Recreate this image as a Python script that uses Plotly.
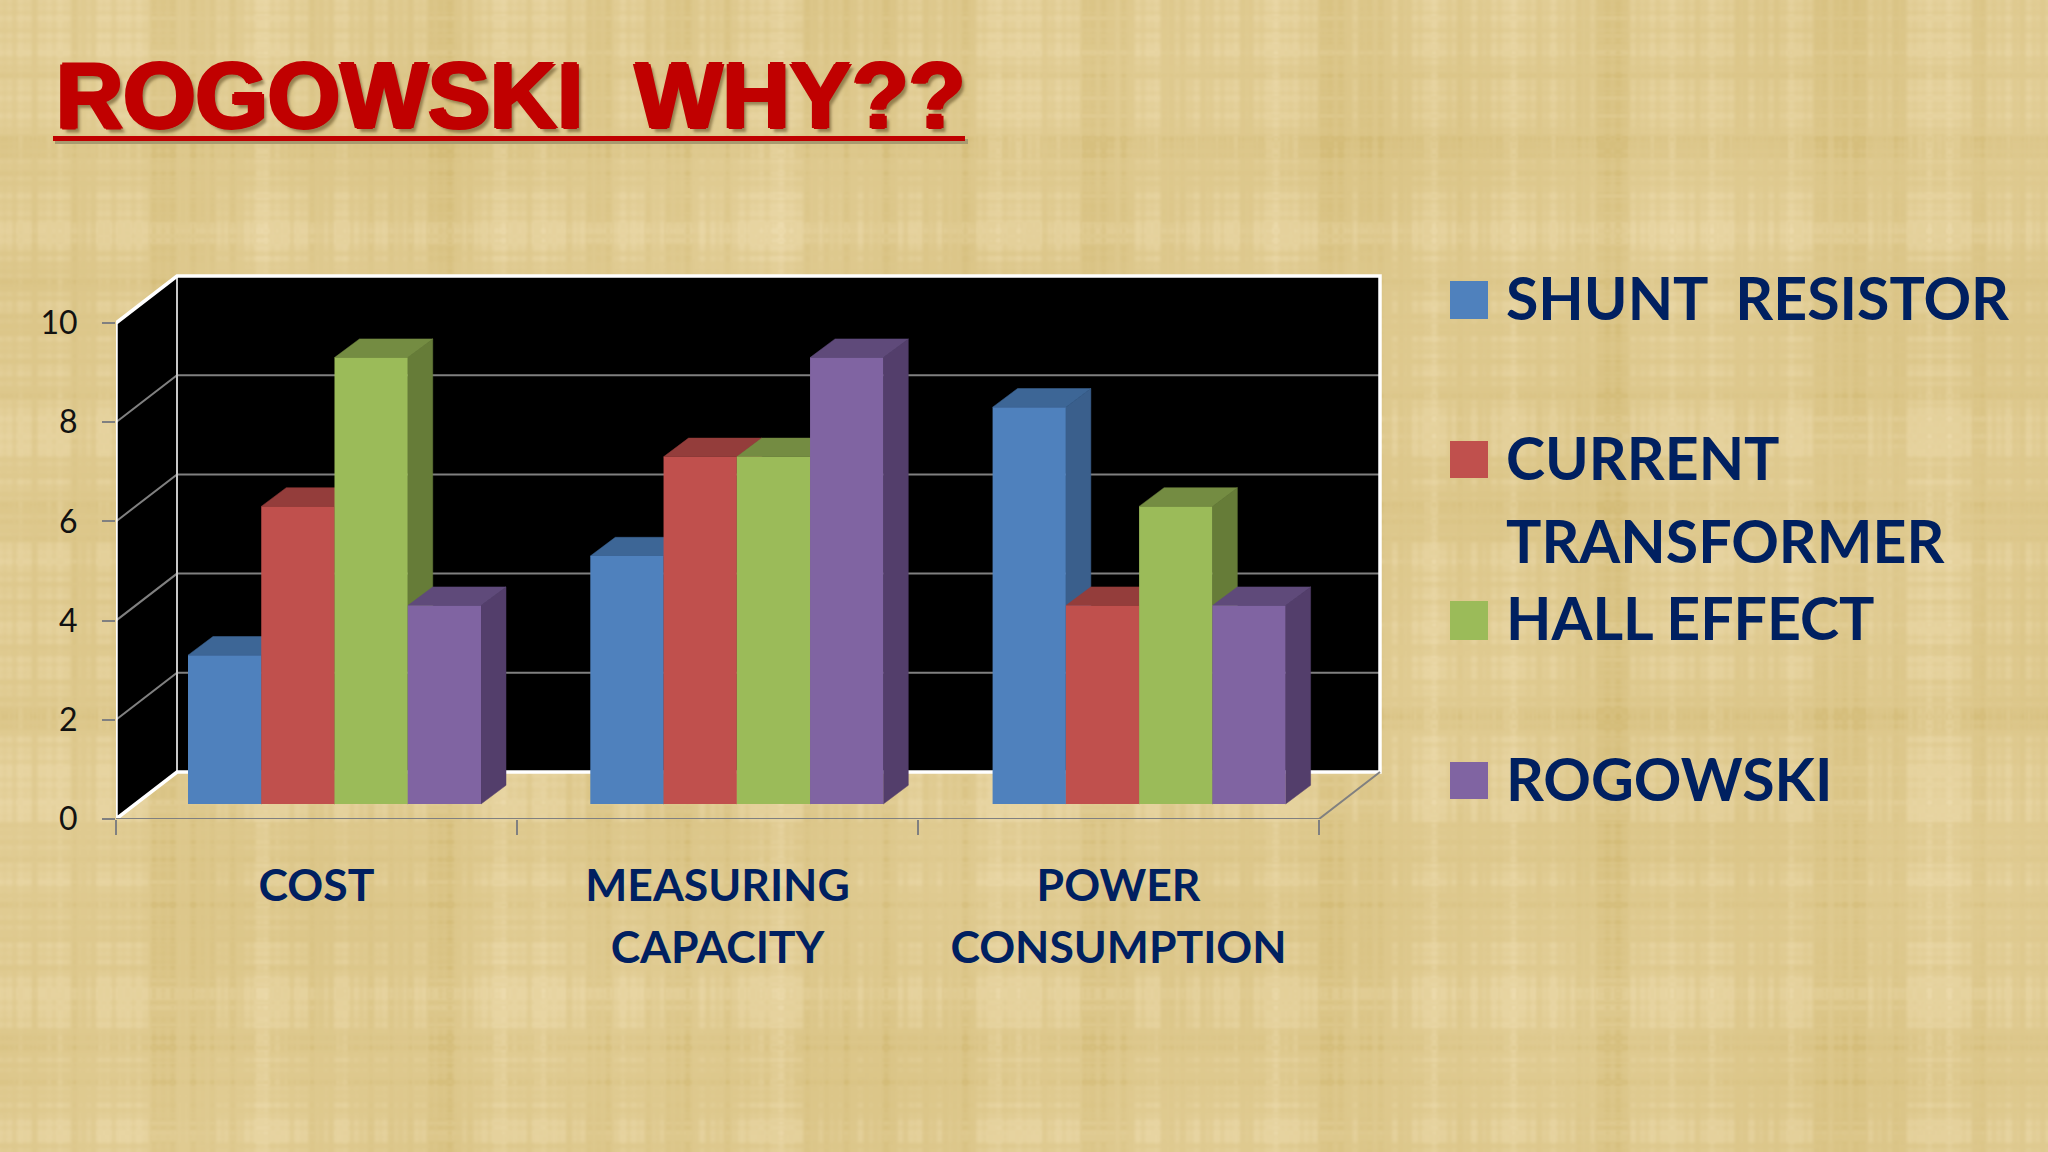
import base64
import struct
import zlib

import numpy as np
import plotly.graph_objects as go

# ---- data ----
categories = ["COST", "MEASURING<br>CAPACITY", "POWER<br>CONSUMPTION"]
series_names = ["SHUNT RESISTOR", "CURRENT TRANSFORMER", "HALL EFFECT", "ROGOWSKI"]
shunt_resistor = [3, 5, 8]
current_transformer = [6, 7, 4]
hall_effect = [9, 7, 6]
rogowski = [4, 9, 4]
y_ticks = [0, 2, 4, 6, 8, 10]

# ---- style ----
front = ["#4F81BD", "#C0504D", "#9BBB59", "#8064A2"]
side = ["#3A5F8C", "#8F3B39", "#667C38", "#533E6B"]
top = ["#3D6696", "#943D3B", "#748C42", "#5F4A7A"]
NAVY = "#002060"
RED = "#C00000"
PAPER = "#E0CB91"
GRID = "#808080"
W, H = 2048, 1152
X0, Y0 = 116, 819          # pixel position of the axes origin
PX_X, PX_Y = 401.0, 49.6   # pixels per axis unit
XR = (1386 - X0) / PX_X
YR = (Y0 - 270) / PX_Y
PLOT_W = XR * PX_X
PLOT_H = YR * PX_Y
WALL_DX = 61 / PX_X        # depth of the chart box
WALL_DY = 47 / PX_Y
BASE = 15 / PX_Y           # bars stand a little behind the front edge
BAR_DX = 25 / PX_X         # depth of a bar
BAR_DY = 18.7 / PX_Y
BAR_W = 73.25 / PX_X
GROUP_SHIFT = 18 / PX_X
GROUP_STEP = 402.3 / PX_X
N_CAT = len(categories)


def px(x):
    return (x - X0) / PLOT_W


def py(y):
    return (Y0 - y) / PLOT_H


def woven_texture(w=1024, h=576):
    """Decorative paper weave for the slide background (not chart data)."""
    xs = np.arange(w)[None, :]
    ys = np.arange(h)[:, None]

    def waves(t, freqs):
        return sum(np.sin(t * f + 1.7 * i) / (1 + i * 0.2) for i, f in enumerate(freqs))

    warp = waves(xs, [0.053, 0.0977, 0.173, 0.311, 0.633, 1.27])
    weft = waves(ys, [0.067, 0.113, 0.197, 0.349, 0.787, 1.41])
    patch = np.sin(xs * 0.019 + ys * 0.011) * np.cos(xs * 0.007 - ys * 0.023)
    light = 2.6 * warp + 1.8 * weft + 2.2 * np.sin(warp * weft) + 2.5 * patch
    img = np.stack([
        224 + 0.8 * light,
        203 + 1.0 * light,
        145 + 1.7 * light,
    ], axis=-1).clip(0, 255).astype(np.uint8)
    raw = b"".join(b"\x00" + row.tobytes() for row in img)

    def chunk(tag, body):
        return struct.pack(">I", len(body)) + tag + body + struct.pack(">I", zlib.crc32(tag + body))

    png = (b"\x89PNG\r\n\x1a\n"
           + chunk(b"IHDR", struct.pack(">IIBBBBB", w, h, 8, 2, 0, 0, 0))
           + chunk(b"IDAT", zlib.compress(raw, 9))
           + chunk(b"IEND", b""))
    return "data:image/png;base64," + base64.b64encode(png).decode()


fig = go.Figure()


def poly(xs, ys, color):
    fig.add_trace(go.Scatter(x=xs, y=ys, mode="lines", fill="toself", fillcolor=color,
                             line=dict(color=color, width=0.5), hoverinfo="skip", showlegend=False))


def line(xs, ys, color, width):
    fig.add_trace(go.Scatter(x=xs, y=ys, mode="lines", line=dict(color=color, width=width),
                             hoverinfo="skip", showlegend=False))


# walls
poly([0, WALL_DX, WALL_DX, 0, 0], [0, WALL_DY, 10 + WALL_DY, 10, 0], "#000000")
poly([WALL_DX, N_CAT + WALL_DX, N_CAT + WALL_DX, WALL_DX, WALL_DX],
     [WALL_DY, WALL_DY, 10 + WALL_DY, 10 + WALL_DY, WALL_DY], "#000000")
for t in y_ticks[1:-1]:
    line([0, WALL_DX, N_CAT + WALL_DX], [t, t + WALL_DY, t + WALL_DY], GRID, 2)
line([WALL_DX, WALL_DX], [WALL_DY, 10 + WALL_DY], "#C8C8C8", 2)
line([0, 0, WALL_DX, N_CAT + WALL_DX, N_CAT + WALL_DX, WALL_DX, 0],
     [0, 10, 10 + WALL_DY, 10 + WALL_DY, WALL_DY, WALL_DY, 0], "#FFFFFF", 3.5)
# floor edge and x axis line
line([0, N_CAT, N_CAT + WALL_DX], [0, 0, WALL_DY], GRID, 2)

# bar sides and tops, painted left to right so nearer faces overlap correctly
all_values = [shunt_resistor, current_transformer, hall_effect, rogowski]
group_w = BAR_W * len(all_values)
x_centres = [c * GROUP_STEP + 0.5 + GROUP_SHIFT for c in range(N_CAT)]
for c in range(N_CAT):
    left0 = x_centres[c] - group_w / 2
    for s, values in enumerate(all_values):
        l = left0 + s * BAR_W
        r = l + BAR_W
        v = values[c] + BASE
        poly([r, r + BAR_DX, r + BAR_DX, r, r], [BASE, BASE + BAR_DY, v + BAR_DY, v, BASE], side[s])
        poly([l, l + BAR_DX, r + BAR_DX, r, l], [v, v + BAR_DY, v + BAR_DY, v, v], top[s])

# bar front faces, on an overlaying subplot so they stay above the scatter faces
for s, values in enumerate(all_values):
    fig.add_trace(go.Bar(x=x_centres, y=values, base=BASE, name=series_names[s],
                         width=BAR_W, offset=(s - len(all_values) / 2) * BAR_W,
                         marker=dict(color=front[s], line=dict(width=0)),
                         xaxis="x2", yaxis="y2", showlegend=False))

ticktext = ["<br>".join('<span style="font-size:44.5px">%s</span>' % p for p in c.split("<br>"))
            for c in categories]

# legend drawn as in the slide
legend_lines = [
    ("SHUNT\u00a0\u00a0RESISTOR", 297),
    ("CURRENT", 457),
    ("TRANSFORMER", 540),
    ("HALL EFFECT", 617),
    ("ROGOWSKI", 778),
]
swatches = [(281, 319), (441, 478), (601, 640), (762, 799)]
annotations = [dict(text=t, x=px(1504), y=py(yy), xref="paper", yref="paper",
                    xanchor="left", yanchor="middle", showarrow=False,
                    font=dict(family="Lato", size=59, color=NAVY, weight="bold"))
               for t, yy in legend_lines]
shapes = [dict(type="rect", xref="paper", yref="paper", x0=px(1450), x1=px(1488),
               y0=py(b), y1=py(a), fillcolor=front[i], line=dict(width=0))
          for i, (a, b) in enumerate(swatches)]
# title underline
shapes.append(dict(type="rect", xref="paper", yref="paper", x0=px(55), x1=px(968),
                   y0=py(144), y1=py(139), fillcolor="#A89A70", line=dict(width=0)))
shapes.append(dict(type="rect", xref="paper", yref="paper", x0=px(53), x1=px(965),
                   y0=py(141), y1=py(136), fillcolor=RED, line=dict(width=0)))

fig.update_layout(
    width=W, height=H, autosize=False,
    paper_bgcolor=PAPER, plot_bgcolor="rgba(0,0,0,0)",
    margin=dict(l=X0, r=W - (X0 + PLOT_W), t=Y0 - PLOT_H, b=H - Y0, pad=0),
    showlegend=False,
    title=dict(text="ROGOWSKI\u00a0\u00a0WHY??", x=56 / W, xanchor="left", xref="container",
               y=1 - 95 / H, yanchor="middle", yref="container",
               font=dict(family="Liberation Sans", size=93, color=RED, weight="bold",
                         shadow="2px 0 0 #C00000, -2px 0 0 #C00000, 0 1.5px 0 #C00000, "
                                "0 -1.5px 0 #C00000, 4px 4px 3px rgba(90,70,30,0.55)")),
    xaxis=dict(range=[0, XR], showgrid=False, zeroline=False, showline=False,
               tickmode="array", tickvals=[c + 0.5 for c in range(N_CAT)], ticktext=ticktext,
               ticks="", tickangle=0, ticklabelstandoff=33,
               tickfont=dict(family="Lato", size=48, color=NAVY, weight="bold"),
               minor=dict(tickmode="array", tickvals=list(range(N_CAT + 1)), ticks="outside",
                          ticklen=15, tickwidth=2, tickcolor=GRID, showgrid=False)),
    yaxis=dict(range=[0, YR], showgrid=False, zeroline=False, showline=False,
               tickmode="array", tickvals=y_ticks, ticks="outside", ticklen=13, tickwidth=2,
               tickcolor=GRID, ticklabelstandoff=18,
               tickfont=dict(family="Lato", size=32, color="#111111")),
    xaxis2=dict(range=[0, XR], overlaying="x", visible=False),
    yaxis2=dict(range=[0, YR], overlaying="y", visible=False),
    annotations=annotations, shapes=shapes,
    images=[dict(source=woven_texture(), xref="paper", yref="paper", x=px(0), y=py(0),
                 sizex=W / PLOT_W, sizey=H / PLOT_H, sizing="stretch",
                 xanchor="left", yanchor="top", layer="below")],
)

fig.write_html("out.html", config={"displayModeBar": False},
               post_script="document.body.style.margin='0';document.body.style.overflow='hidden';")
